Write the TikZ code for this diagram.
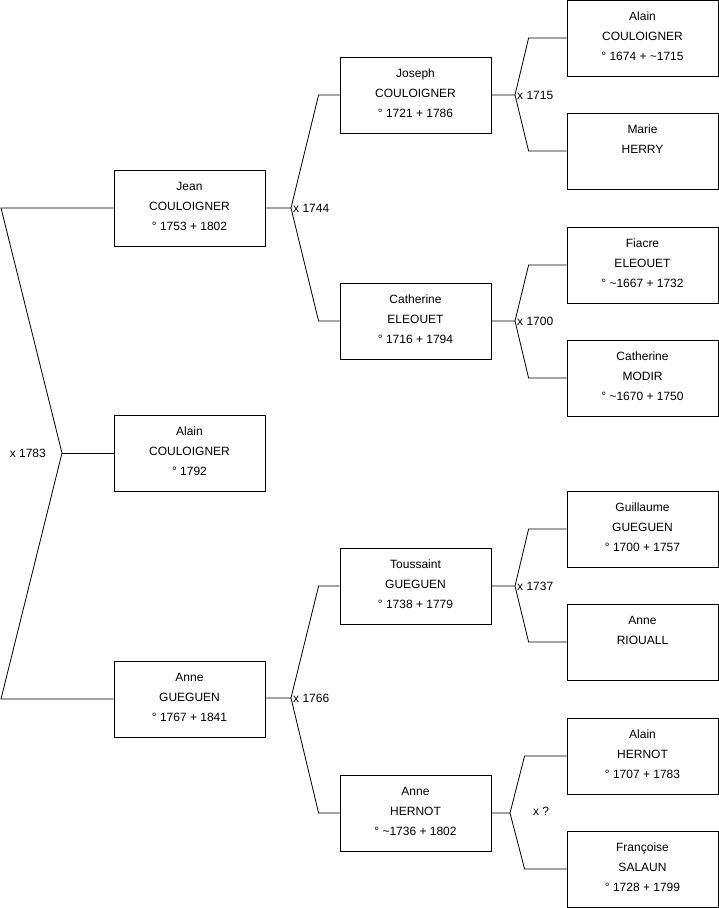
\documentclass[tikz,border=0pt]{standalone}
\usepackage{fontspec}
\setmainfont{Liberation Sans}
\newcommand{\lowstrut}{\rule[-4pt]{0pt}{4pt}}
\tikzset{
  person/.style={draw, line width=0.8pt, minimum width=151pt, minimum height=76pt,
    inner sep=0pt, align=center, font=\fontsize{12}{20}\selectfont,
    execute at end node={\lowstrut}},
  link/.style={line width=0.8pt},
  wed/.style={font=\fontsize{12}{14}\selectfont, inner sep=2pt}
}
\begin{document}
\begin{tikzpicture}[x=1pt,y=-1pt]
    \useasboundingbox (0,0) rectangle (719,908);
    %prima colonna
    \node[person] (jean)  at (189.5,208) {Jean\\COULOIGNER\\° 1753 + 1802};
    \node[person] (alain) at (189.5,453) {Alain\\COULOIGNER\\° 1792};
    \node[person] (anne)  at (189.5,699) {Anne\\GUEGUEN\\° 1767 + 1841};
    %seconda colonna
    \node[person] (joseph)    at (415.5,95)  {Joseph\\COULOIGNER\\° 1721 + 1786};
    \node[person] (catherine) at (415.5,321) {Catherine\\ELEOUET\\° 1716 + 1794};
    \node[person] (toussaint) at (415.5,586) {Toussaint\\GUEGUEN\\° 1738 + 1779};
    \node[person] (anneh)     at (415.5,813) {Anne\\HERNOT\\° \textasciitilde1736 + 1802};
    %terza colonna
    \node[person] (alainc)    at (642.5,38)  {Alain\\COULOIGNER\\° 1674 + \textasciitilde1715};
    \node[person] (marie)     at (642.5,151) {Marie\\HERRY\\};
    \node[person] (fiacre)    at (642.5,265) {Fiacre\\ELEOUET\\° \textasciitilde1667 + 1732};
    \node[person] (catherinem) at (642.5,378) {Catherine\\MODIR\\° \textasciitilde1670 + 1750};
    \node[person] (guillaume) at (642.5,529) {Guillaume\\GUEGUEN\\° 1700 + 1757};
    \node[person] (anner)     at (642.5,642) {Anne\\RIOUALL\\};
    \node[person] (alainh)    at (642.5,756) {Alain\\HERNOT\\° 1707 + 1783};
    \node[person] (francoise) at (642.5,869) {Françoise\\SALAUN\\° 1728 + 1799};
    %biforcazioni
    \coordinate (f0) at (62,453);
    \coordinate (f1) at (291,208);
    \coordinate (f2) at (291,698);
    \coordinate (f3) at (515,95);
    \coordinate (f4) at (515,321);
    \coordinate (f5) at (515,586);
    \coordinate (f6) at (510,813);
    %matrimonio dei genitori
    \draw[link](jean.west)--(jean.west -| 1,0)--(f0)--(anne.west -| 1,0)--(anne.west);
    \draw[link](f0)--(alain.west);
    \node[wed,anchor=east] (w0) at ([xshift=-14pt]f0) {x 1783};
    %nonni
    \draw[link](jean.east)--(f1)--([xshift=-21pt]joseph.west)--(joseph.west) %
               (f1)--([xshift=-21pt]catherine.west)--(catherine.west);
    \node[wed,anchor=west] (w1) at (f1) {x 1744};
    \draw[link](anne.east |- f2)--(f2)--([xshift=-21pt]toussaint.west)--(toussaint.west) %
               (f2)--([xshift=-21pt]anneh.west)--(anneh.west);
    \node[wed,anchor=west] (w2) at (f2) {x 1766};
    %bisnonni
    \draw[link](joseph.east)--(f3)--([xshift=-38pt]alainc.west)--(alainc.west) %
               (f3)--([xshift=-38pt]marie.west)--(marie.west);
    \node[wed,anchor=west] (w3) at (f3) {x 1715};
    \draw[link](catherine.east)--(f4)--([xshift=-38pt]fiacre.west)--(fiacre.west) %
               (f4)--([xshift=-38pt]catherinem.west)--(catherinem.west);
    \node[wed,anchor=west] (w4) at (f4) {x 1700};
    \draw[link](toussaint.east)--(f5)--([xshift=-38pt]guillaume.west)--(guillaume.west) %
               (f5)--([xshift=-38pt]anner.west)--(anner.west);
    \node[wed,anchor=west] (w5) at (f5) {x 1737};
    \draw[link](anneh.east)--(f6)--([xshift=-42pt]alainh.west)--(alainh.west) %
               (f6)--([xshift=-42pt]francoise.west)--(francoise.west);
    \node[wed] (w6) at (541,811) {x ?};
\end{tikzpicture}
\end{document}
